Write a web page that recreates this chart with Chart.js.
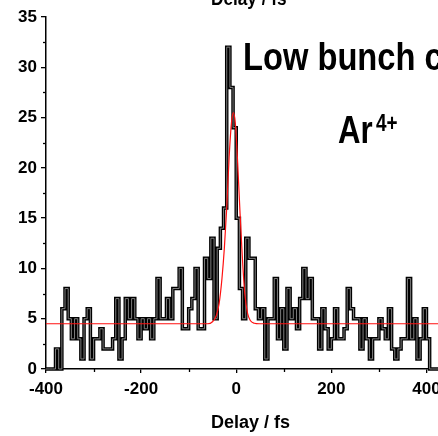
<!DOCTYPE html>
<html>
<head>
<meta charset="utf-8">
<script src="https://cdn.jsdelivr.net/npm/chart.js@4.4.1/dist/chart.umd.min.js"></script>
<style>
  html, body { margin: 0; padding: 0; background: #fff; overflow: hidden; width: 438px; height: 436px; }
  #wrap { position: relative; width: 480px; height: 436px; }
  canvas { position: absolute; left: 0; top: 0; }
  .txt { position: absolute; white-space: nowrap; line-height: 1; font-weight: bold; color: #000;
         font-family: 'Liberation Sans', Arial, sans-serif;
         transform: scaleX(0.82); transform-origin: 0 0; }
</style>
</head>
<body>
<div id="wrap">
  <canvas id="c" width="480" height="436"></canvas>
  <div class="txt" style="left:211px; top:-13px; font-size:21px;">Delay / fs</div>
  <div class="txt" style="left:243px; top:38px; font-size:38px; transform: scaleX(0.86);">Low bunch charge</div>
  <div class="txt" style="left:338px; top:111px; font-size:38px;">Ar</div>
  <div class="txt" style="left:376px; top:112px; font-size:23px;">4+</div>
</div>
<script>
// Histogram: counts per delay bin (bin width 20/3 fs, starting at -400 fs)
const BIN_START = -400;
const BIN_WIDTH = 20 / 3;
const counts = [
  0, 0, 0, 0, 2, 0, 6, 8, 5, 3,
  5, 3, 1, 5, 6, 1, 3, 3, 4, 2,
  2, 2, 3, 7, 1, 3, 7, 5, 7, 5,
  3, 5, 4, 5, 3, 5, 9, 5, 5, 7,
  5, 8, 8, 10, 4, 4, 6, 7, 10, 4,
  4, 11, 9, 13, 5, 12, 14, 16, 32, 28,
  24, 15, 8, 5, 13, 11, 11, 6, 5, 6,
  1, 5, 5, 9, 3, 6, 2, 8, 5, 6,
  4, 7, 10, 7, 9, 5, 5, 2, 6, 4,
  2, 3, 6, 3, 3, 4, 8, 6, 5, 5,
  2, 5, 3, 1, 3, 3, 5, 4, 3, 6,
  2, 1, 2, 3, 3, 9, 3, 5, 1, 3,
  6, 3, 0, 0, 0, 0, 0, 0, 0
];

// Fit curve (Gaussian + constant)
const fitX = [-400, -60, -50, -42, -36, -30, -25, -20, -15, -10, -6, -2, 3, 8, 13, 18, 24, 30, 38, 48, 460];
const fitY = [4.5, 4.5, 4.7, 5.3, 6.5, 9, 12, 16, 21, 24.5, 25.5, 24.5, 20.5, 15.5, 11, 7.5, 5.5, 4.8, 4.55, 4.5, 4.5];

// Axis ticks
const xMajorTicks = [-400, -200, 0, 200, 400];
const xMinorTicks = [-300, -100, 100, 300];
const yMajorTicks = [0, 5, 10, 15, 20, 25, 30, 35];
const yMinorTicks = [2.5, 7.5, 12.5, 17.5, 22.5, 27.5, 32.5];

const FONT_FAMILY = "'Liberation Sans', Arial, sans-serif";

const histPoints = counts.map((c, i) => ({ x: BIN_START + i * BIN_WIDTH, y: c }));
histPoints.push({ x: BIN_START + counts.length * BIN_WIDTH, y: counts[counts.length - 1] });
const fitPoints = fitX.map((x, i) => ({ x: x, y: fitY[i] }));

const minorTicksPlugin = {
  id: 'minorTicks',
  afterDraw(chart) {
    const { ctx, scales: { x, y } } = chart;
    ctx.save();
    ctx.strokeStyle = '#000';
    ctx.lineWidth = 1.3;
    xMinorTicks.forEach(v => {
      const px = Math.round(x.getPixelForValue(v)) + 0.5;
      ctx.beginPath(); ctx.moveTo(px, x.top); ctx.lineTo(px, x.top + 3); ctx.stroke();
    });
    yMinorTicks.forEach(v => {
      const py = Math.round(y.getPixelForValue(v)) + 0.5;
      ctx.beginPath(); ctx.moveTo(y.right, py); ctx.lineTo(y.right - 3, py); ctx.stroke();
    });
    ctx.restore();
  }
};

new Chart(document.getElementById('c'), {
  type: 'line',
  data: {
    datasets: [
      { label: 'fit', data: fitPoints, borderColor: '#ff1010', borderWidth: 1.2, pointRadius: 0,
        fill: false, cubicInterpolationMode: 'monotone', order: 0, clip: 6 },
      { label: 'hist-core', data: histPoints, borderColor: '#8a8a8a', borderWidth: 0.9, pointRadius: 0,
        fill: false, stepped: 'after', order: 1, clip: 6 },
      { label: 'hist', data: histPoints, borderColor: '#000', borderWidth: 3.5, pointRadius: 0,
        fill: false, stepped: 'after', order: 2, clip: 6 }
    ]
  },
  options: {
    responsive: false,
    animation: false,
    devicePixelRatio: 1,
    layout: { padding: { left: 0, right: 25, top: 17, bottom: 0 } },
    plugins: { legend: { display: false }, tooltip: { enabled: false } },
    scales: {
      x: {
        type: 'linear', position: 'bottom', min: -400, max: 460,
        afterBuildTicks: s => { s.ticks = xMajorTicks.map(v => ({ value: v })); },
        afterFit: s => { s.height = 67; },
        grid: { drawOnChartArea: false, drawTicks: true, tickLength: 4, color: '#000', lineWidth: 1.3 },
        border: { display: true, color: '#000', width: 1.5 },
        ticks: { color: '#000', padding: 6, maxRotation: 0, autoSkip: false,
                 font: { family: FONT_FAMILY, size: 17, weight: 'bold' },
                 callback: v => String(v) },
        title: { display: true, text: 'Delay / fs', color: '#000', padding: { top: 0, bottom: 2 },
                 font: { family: FONT_FAMILY, size: 18, weight: 'bold' } }
      },
      y: {
        type: 'linear', position: 'left', min: 0, max: 35,
        afterBuildTicks: s => { s.ticks = yMajorTicks.map(v => ({ value: v })); },
        afterFit: s => { s.width = 46; },
        grid: { drawOnChartArea: false, drawTicks: true, tickLength: 5, color: '#000', lineWidth: 1.3 },
        border: { display: true, color: '#000', width: 1.5 },
        ticks: { color: '#000', padding: 4, autoSkip: false,
                 font: { family: FONT_FAMILY, size: 17, weight: 'bold' },
                 callback: v => String(v) }
      }
    }
  },
  plugins: [minorTicksPlugin]
});
</script>
</body>
</html>
